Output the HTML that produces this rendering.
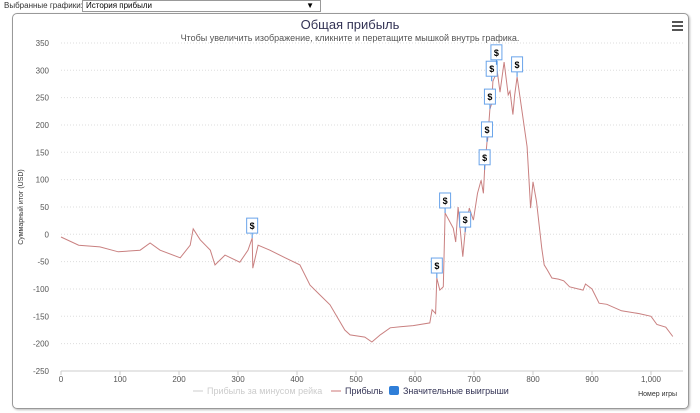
<!DOCTYPE html>
<html><head><meta charset="utf-8"><style>
body{margin:0;width:700px;height:413px;background:#fff;font-family:"Liberation Sans",sans-serif;overflow:hidden;position:relative}
.top{position:absolute;left:4px;top:1px;font-size:8px;color:#333}
.sel{position:absolute;left:82px;top:0;width:234px;height:10px;border:1px solid #999;font-size:8px;line-height:10px;padding-left:3px;box-sizing:content-box}
.box{position:absolute;left:12px;top:13px;width:675px;height:394px;border:1px solid #999;border-radius:5px;box-shadow:1px 1px 2px #bbb}
</style></head><body>
<div class="top">Выбранные графики:</div>
<div class="sel">История прибыли<span style="position:absolute;right:6px;top:0">▼</span></div>
<div class="box"></div>
<svg id="c" width="700" height="413" style="position:absolute;left:0;top:0" font-family="Liberation Sans, sans-serif">
<text x="350" y="29" text-anchor="middle" font-size="13" fill="#335">Общая прибыль</text>
<text x="350" y="41" text-anchor="middle" font-size="9" fill="#555">Чтобы увеличить изображение, кликните и перетащите мышкой внутрь графика.</text>
<g fill="#555"><rect x="672" y="21" width="11" height="2"/><rect x="672" y="25" width="11" height="2"/><rect x="672" y="29" width="11" height="2"/></g>
<text transform="translate(23,207) rotate(-90)" text-anchor="middle" font-size="7" fill="#333">Суммарный итог (USD)</text>
<text x="677" y="396" text-anchor="end" font-size="7" fill="#333">Номер игры</text>
<g id="grid"></g><g id="line"></g><g id="marks"></g>
<g font-size="9">
<g><line x1="193" y1="391" x2="203" y2="391" stroke="#ccc"/><text x="207" y="394" fill="#ccc">Прибыль за минусом рейка</text></g>
<g><line x1="331" y1="391" x2="341" y2="391" stroke="#c77"/><text x="345" y="394" fill="#335">Прибыль</text></g>
<g><rect x="389" y="386" width="10" height="9" rx="2" fill="#2f7ed8"/><text x="403" y="394" fill="#335">Значительные выигрыши</text></g>
</g>
</svg>
<script>
const yTicks=[350,300,250,200,150,100,50,0,-50,-100,-150,-200,-250];
const xTicks=[0,100,200,300,400,500,600,700,800,900,1000];
const xTickLabels=["0","100","200","300","400","500","600","700","800","900","1,000"];
const games=[0,30,66,97,134,151,168,202,219,224,236,253,261,278,303,317,324,325,334,354,380,405,422,439,456,481,490,515,527,541,558,575,597,625,629,635,637,642,648,651,665,669,673,681,685,692,699,706,712,716,718,722,723,727,730,732,736,738,744,751,758,761,766,769,773,781,790,796,800,806,815,819,824,832,843,852,862,885,889,900,912,925,950,980,1000,1010,1025,1037];
const profit=[-5,-20,-23,-32,-29,-16,-29,-43,-20,10,-10,-29,-56,-38,-51,-29,-7,-62,-20,-29,-43,-56,-93,-111,-129,-175,-184,-188,-197,-184,-171,-169,-167,-162,-138,-145,-80,-102,-96,39,11,-14,50,-41,4,48,26,75,99,75,118,169,172,229,239,280,290,310,260,315,255,262,219,255,288,228,160,48,96,60,-26,-56,-65,-80,-82,-85,-96,-102,-91,-100,-126,-128,-140,-145,-150,-165,-170,-187];
const bigWinGames=[324,637,651,685,718,722,727,730,738,773];
const bigWinValues=[-7,-80,39,4,118,169,229,280,310,288];
const X=g=>61+g*0.59, Y=v=>234.3-v*0.5467;
const NS='http://www.w3.org/2000/svg';
function mk(t,a,p){const e=document.createElementNS(NS,t);for(const k in a)e.setAttribute(k,a[k]);p.appendChild(e);return e;}
const grid=document.getElementById('grid');
yTicks.forEach(v=>{
  const l=mk('line',{x1:61,x2:683,y1:Y(v),y2:Y(v),stroke:v===-250?'#ccc':'#ddd','stroke-dasharray':v===-250?'':'1,2'},grid);
  
  
  const t=mk('text',{x:49,y:Y(v)+3,'text-anchor':'end','font-size':8,fill:'#555'},grid);t.textContent=v;
  
  
});
xTicks.forEach((g,i)=>{
  const t=mk('text',{x:X(g),y:382,'text-anchor':'middle','font-size':8,fill:'#555'},grid);t.textContent=xTickLabels[i];
  
  
  const k=mk('line',{x1:X(g),x2:X(g),y1:Y(-250),y2:Y(-250)+4,stroke:'#ccc'},grid);
  
  
});
const p=mk('path',{d:games.map((g,i)=>(i?'L':'M')+X(g).toFixed(1)+','+Y(profit[i]).toFixed(1)).join(''),fill:'none',stroke:'#c98080','stroke-width':1},document.getElementById('line'));


const marks=document.getElementById('marks');
bigWinGames.forEach((g,i)=>{
  const x=X(g),y=Y(bigWinValues[i]);
  const gg=mk('g',{},marks);
  
  
  mk('line',{x1:x,x2:x,y1:y,y2:y-5,stroke:'#4a90e2'},gg);
  mk('rect',{x:x-5.5,y:y-20,width:11,height:15,fill:'#fff',stroke:'#6aa4ea','stroke-width':1},gg);
  const t=mk('text',{x:x,y:y-9,'text-anchor':'middle','font-size':9,'font-weight':'bold',fill:'#000'},gg);t.textContent='$';
});
</script>
</body></html>
